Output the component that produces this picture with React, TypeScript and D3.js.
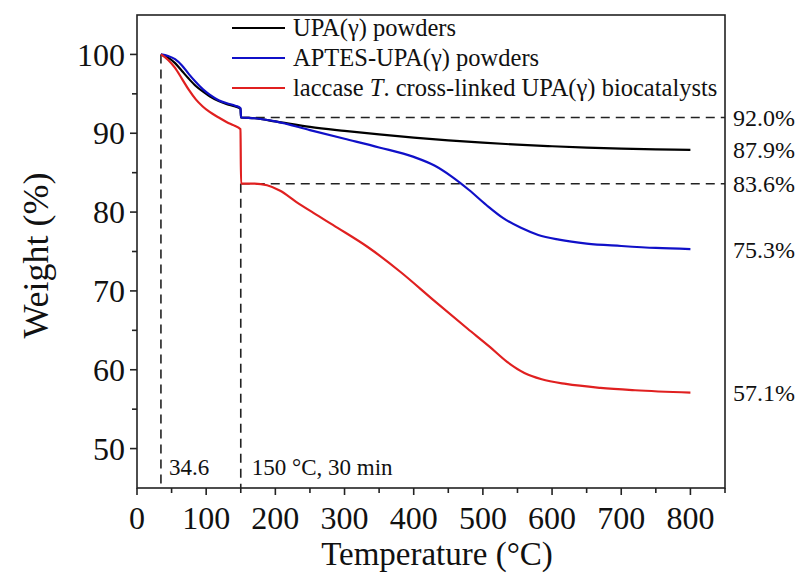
import React from "react";
import * as d3 from "d3";

// ---------- data ----------
const xTicks = [0, 100, 200, 300, 400, 500, 600, 700, 800];
const yTicks = [50, 60, 70, 80, 90, 100];

const upaT = [34.6, 45, 55, 65, 75, 85, 95, 105, 118, 130, 142, 149.6, 150.4, 170, 200, 250, 300, 350, 400, 450, 500, 550, 600, 650, 700, 750, 800];
const upaW = [100, 99.6, 98.9, 97.9, 96.9, 96.0, 95.3, 94.7, 94.1, 93.7, 93.4, 93.1, 92.0, 91.9, 91.5, 90.8, 90.3, 89.85, 89.45, 89.1, 88.8, 88.55, 88.35, 88.18, 88.05, 87.95, 87.9];

const aptesT = [34.6, 45, 55, 65, 75, 85, 95, 105, 118, 130, 142, 149.6, 150.4, 170, 200, 250, 300, 350, 400, 430, 455, 480, 505, 530, 555, 580, 610, 650, 700, 750, 800];
const aptesW = [100, 99.8, 99.4, 98.6, 97.5, 96.5, 95.6, 94.9, 94.2, 93.8, 93.5, 93.2, 92.0, 91.9, 91.5, 90.4, 89.3, 88.2, 87.0, 85.9, 84.5, 82.8, 80.9, 79.2, 78.0, 77.1, 76.5, 76.0, 75.7, 75.45, 75.3];

const laccT = [34.6, 45, 55, 65, 75, 85, 95, 105, 118, 130, 140, 149.6, 150.4, 170, 188, 207, 230, 255, 290, 333, 381, 429, 478, 510, 535, 560, 585, 620, 670, 720, 800];
const laccW = [100, 99.3, 98.3, 96.9, 95.5, 94.3, 93.4, 92.7, 92.0, 91.4, 91.0, 90.5, 83.6, 83.6, 83.4, 82.7, 81.3, 79.9, 78.0, 75.6, 72.4, 68.8, 65.2, 62.9, 61.0, 59.6, 58.8, 58.2, 57.7, 57.4, 57.1];

const seriesNames = ["UPA(\u03b3) powders", "APTES-UPA(\u03b3) powders", "laccase T. cross-linked UPA(\u03b3) biocatalysts"];
const seriesColors = ["#000000", "#1010c8", "#e02020"];

const endLabels = [92.0, 87.9, 83.6, 75.3, 57.1];
const refLevels = [92.0, 83.6];
const startTemp = 34.6;
const holdTemp = 150;

// ---------- layout ----------
const W = 798, H = 574;
const L = 137, R = 725, T = 15, B = 488;
const FONT = "'Liberation Serif', 'Times New Roman', serif";

export default function App() {
  const x = d3.scaleLinear().domain([0, 850]).range([L, R]);
  const y = d3.scaleLinear().domain([45, 105]).range([B, T]);

  const line = d3
    .line<[number, number]>()
    .x((d) => x(d[0]))
    .y((d) => y(d[1]))
    .curve(d3.curveMonotoneX);

  const series = [
    upaT.map((t, i) => [t, upaW[i]] as [number, number]),
    aptesT.map((t, i) => [t, aptesW[i]] as [number, number]),
    laccT.map((t, i) => [t, laccW[i]] as [number, number]),
  ];

  const xMinor = d3.range(50, 851, 100);
  const yMinor = d3.range(55, 105, 10);

  return (
    <svg width={W} height={H} style={{ position: "absolute", left: 0, top: 0, background: "#fff" }} fontFamily={FONT}>
      <rect x={0} y={0} width={W} height={H} fill="#fff" />
      {/* dashed guides */}
      <g stroke="#222" strokeWidth={1.6} strokeDasharray="9,6" fill="none">
        <line x1={x(startTemp)} x2={x(startTemp)} y1={y(100)} y2={B} />
        <line x1={x(holdTemp)} x2={x(holdTemp)} y1={y(refLevels[1])} y2={B} />
        {refLevels.map((v) => (
          <line key={v} x1={x(holdTemp)} x2={R} y1={y(v)} y2={y(v)} />
        ))}
      </g>
      {/* curves */}
      {series.map((s, i) => (
        <path key={i} d={line(s) || ""} fill="none" stroke={seriesColors[i]} strokeWidth={2.2} strokeLinejoin="round" />
      ))}
      {/* frame */}
      <rect x={L} y={T} width={R - L} height={B - T} fill="none" stroke="#222" strokeWidth={1.6} />
      {/* ticks */}
      <g stroke="#222" strokeWidth={1.6}>
        {xTicks.map((t) => (
          <line key={"xt" + t} x1={x(t)} x2={x(t)} y1={B} y2={B + 7} />
        ))}
        {xMinor.map((t) => (
          <line key={"xm" + t} x1={x(t)} x2={x(t)} y1={B} y2={B + 5} />
        ))}
        {yTicks.map((t) => (
          <line key={"yt" + t} x1={L - 7} x2={L} y1={y(t)} y2={y(t)} />
        ))}
        {yMinor.map((t) => (
          <line key={"ym" + t} x1={L - 5} x2={L} y1={y(t)} y2={y(t)} />
        ))}
      </g>
      <g fontSize={32} fill="#111">
        {xTicks.map((t) => (
          <text key={"xl" + t} x={x(t)} y={529} textAnchor="middle">
            {t}
          </text>
        ))}
        {yTicks.map((t) => (
          <text key={"yl" + t} x={L - 12} y={y(t)} dy="0.35em" textAnchor="end">
            {t}
          </text>
        ))}
      </g>
      {/* axis titles */}
      <text x={(L + R) / 2 + 6} y={565} textAnchor="middle" fontSize={33} fill="#111">
        Temperature (°C)
      </text>
      <text transform={`translate(48, ${(T + B) / 2 + 4}) rotate(-90)`} textAnchor="middle" fontSize={36} fill="#111">
        Weight (%)
      </text>
      {/* legend */}
      {seriesNames.map((n, i) => {
        const yy = 28 + i * 30;
        return (
          <g key={n}>
            <line x1={232} x2={285} y1={yy} y2={yy} stroke={seriesColors[i]} strokeWidth={2.2} />
            <text x={293} y={yy} dy="0.33em" fontSize={24.5} fill="#111">
              {i === 2 ? (
                <>
                  laccase <tspan fontStyle="italic">T</tspan>. cross-linked UPA(γ) biocatalysts
                </>
              ) : (
                n
              )}
            </text>
          </g>
        );
      })}
      {/* right labels */}
      {endLabels.map((v) => (
        <text key={v} x={733} y={y(v)} dy="0.35em" fontSize={24} fill="#111">
          {v.toFixed(1)}%
        </text>
      ))}
      {/* annotations */}
      <text x={x(startTemp) + 8} y={475} fontSize={23} fill="#111">
        {startTemp}
      </text>
      <text x={x(holdTemp) + 11} y={475} fontSize={23} fill="#111">
        150 °C, 30 min
      </text>
    </svg>
  );
}
